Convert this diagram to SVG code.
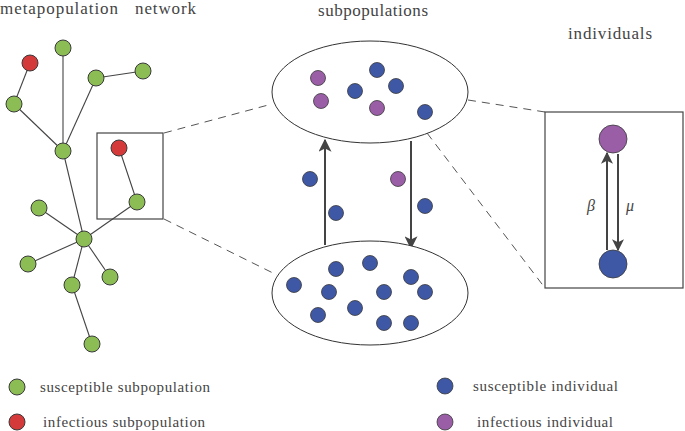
<svg xmlns="http://www.w3.org/2000/svg" width="685" height="431" viewBox="0 0 685 431">
<defs>
<style>
.t{font-family:"Liberation Serif","DejaVu Serif",serif;fill:#444;}
.g{fill:#8cbd55;stroke:#3a3a3a;stroke-width:1;}
.r{fill:#d43a3a;stroke:#3a3a3a;stroke-width:1;}
.b{fill:#3f58a6;stroke:#3a3a3a;stroke-width:0.8;}
.p{fill:#9a5ea6;stroke:#3a3a3a;stroke-width:0.8;}
.e{stroke:#444;stroke-width:1.1;fill:none;}
.d{stroke:#555;stroke-width:1;stroke-dasharray:8 6;fill:none;}
.a{stroke:#444;stroke-width:2;fill:none;}
.bx{fill:none;stroke:#444;stroke-width:1.2;}
</style>
<marker id="ah" viewBox="0 0 10 10" refX="9" refY="5" markerWidth="6.5" markerHeight="6.5" orient="auto" markerUnits="strokeWidth">
<path d="M0,0 L10,5 L0,10 L2.5,5 Z" fill="#444"/>
</marker>
<marker id="ah2" viewBox="0 0 10 10" refX="9" refY="5" markerWidth="6" markerHeight="6" orient="auto" markerUnits="strokeWidth">
<path d="M0,0 L10,5 L0,10 L2.5,5 Z" fill="#444"/>
</marker>
</defs>
<rect width="685" height="431" fill="#fff"/>

<text class="t" font-size="17" y="14"><tspan x="0" textLength="118">metapopulation</tspan><tspan x="135" textLength="61">network</tspan></text>
<text class="t" font-size="17" x="318" y="16" textLength="110">subpopulations</text>
<text class="t" font-size="17" x="568" y="39" textLength="84">individuals</text>

<g id="connectors">
<line class="e" x1="30" y1="63" x2="14" y2="104"/>
<line class="e" x1="14" y1="104" x2="63" y2="151"/>
<line class="e" x1="63" y1="48" x2="63" y2="151"/>
<line class="e" x1="96" y1="78" x2="63" y2="151" stroke-width="0.8" stroke="#666"/>
<line class="e" x1="96" y1="78" x2="143" y2="71"/>
<line class="e" x1="63" y1="151" x2="84" y2="239"/>
<line class="e" x1="119" y1="148" x2="137" y2="202"/>
<line class="e" x1="137" y1="202" x2="84" y2="239"/>
<line class="e" x1="84" y1="239" x2="39" y2="208"/>
<line class="e" x1="84" y1="239" x2="28" y2="264"/>
<line class="e" x1="84" y1="239" x2="110" y2="277"/>
<line class="e" x1="84" y1="239" x2="72" y2="285"/>
<line class="e" x1="72" y1="285" x2="92" y2="344"/>
<line class="d" x1="164" y1="133" x2="272" y2="104"/>
<line class="d" x1="164" y1="219" x2="277" y2="275"/>
<line class="d" x1="468" y1="100" x2="545" y2="112"/>
<line class="d" x1="427" y1="133" x2="545" y2="288"/>
<line class="a" x1="325" y1="245" x2="325" y2="140" marker-end="url(#ah)"/>
<line class="a" x1="411" y1="141" x2="411" y2="248" marker-end="url(#ah)"/>
<line class="a" x1="607" y1="250" x2="607" y2="153" stroke-width="1.8" marker-end="url(#ah2)"/>
<line class="a" x1="618" y1="154" x2="618" y2="250" stroke-width="1.8" marker-end="url(#ah2)"/>
</g>

<g id="network-box"><rect class="bx" x="97" y="133" width="66" height="86"/></g>

<g id="n1"><circle class="g" cx="63" cy="48" r="8"/></g>
<g id="n2"><circle class="r" cx="30" cy="63" r="8"/></g>
<g id="n3"><circle class="g" cx="96" cy="78" r="8"/></g>
<g id="n4"><circle class="g" cx="143" cy="71" r="8"/></g>
<g id="n5"><circle class="g" cx="14" cy="104" r="8"/></g>
<g id="n6"><circle class="g" cx="63" cy="151" r="8"/></g>
<g id="n7"><circle class="r" cx="119" cy="148" r="8"/></g>
<g id="n8"><circle class="g" cx="137" cy="202" r="8"/></g>
<g id="n9"><circle class="g" cx="84" cy="239" r="8"/></g>
<g id="n10"><circle class="g" cx="39" cy="208" r="8"/></g>
<g id="n11"><circle class="g" cx="28" cy="264" r="8"/></g>
<g id="n12"><circle class="g" cx="110" cy="277" r="8"/></g>
<g id="n13"><circle class="g" cx="72" cy="285" r="8"/></g>
<g id="n14"><circle class="g" cx="92" cy="344" r="8"/></g>

<g id="subpop-top">
<ellipse cx="370" cy="92" rx="98" ry="51" fill="#fff" stroke="#333" stroke-width="1"/>
<circle class="p" cx="318" cy="78" r="7.5"/>
<circle class="p" cx="321" cy="101" r="7.5"/>
<circle class="b" cx="355" cy="91" r="7.5"/>
<circle class="b" cx="377" cy="70" r="7.5"/>
<circle class="b" cx="396" cy="86" r="7.5"/>
<circle class="p" cx="377" cy="108" r="7.5"/>
<circle class="b" cx="425" cy="112" r="7.5"/>
</g>

<g id="subpop-bottom">
<ellipse cx="370" cy="293" rx="98" ry="52" fill="#fff" stroke="#333" stroke-width="1"/>
<circle class="b" cx="294" cy="285" r="7.5"/>
<circle class="b" cx="336" cy="269" r="7.5"/>
<circle class="b" cx="370" cy="263" r="7.5"/>
<circle class="b" cx="411" cy="277" r="7.5"/>
<circle class="b" cx="329" cy="292" r="7.5"/>
<circle class="b" cx="384" cy="292" r="7.5"/>
<circle class="b" cx="425" cy="292" r="7.5"/>
<circle class="b" cx="355" cy="308" r="7.5"/>
<circle class="b" cx="318" cy="315" r="7.5"/>
<circle class="b" cx="384" cy="323" r="7.5"/>
<circle class="b" cx="411" cy="323" r="7.5"/>
</g>

<g id="migrants">
<circle class="b" cx="310" cy="179" r="7.5"/>
<circle class="b" cx="336" cy="213" r="7.5"/>
<circle class="p" cx="398" cy="179" r="7.5"/>
<circle class="b" cx="425" cy="206" r="7.5"/>
</g>

<g id="individuals-box">
<rect class="bx" x="545" y="112" width="138" height="176" stroke-width="1"/>
</g>
<g id="infectious-individual"><circle class="p" cx="613" cy="139" r="14"/></g>
<g id="susceptible-individual"><circle class="b" cx="613" cy="264" r="14"/></g>
<text class="t" font-size="16" font-style="italic" x="587" y="211">β</text>
<text class="t" font-size="16" font-style="italic" x="626" y="211">μ</text>

<g id="legend">
<circle class="g" cx="17" cy="387" r="8"/>
<text class="t" font-size="15" x="40" y="392" textLength="170">susceptible subpopulation</text>
<circle class="r" cx="17" cy="422" r="8"/>
<text class="t" font-size="15" x="43" y="427" textLength="162">infectious subpopulation</text>
<circle class="b" cx="445" cy="386" r="8"/>
<text class="t" font-size="15" x="473" y="391" textLength="145">susceptible individual</text>
<circle class="p" cx="445" cy="422" r="8"/>
<text class="t" font-size="15" x="477" y="427" textLength="136">infectious individual</text>
</g>
</svg>
